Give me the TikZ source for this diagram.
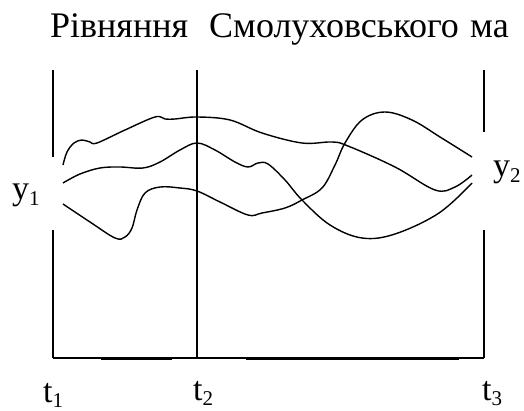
\documentclass[tikz,border=0pt]{standalone}
\usepackage{fontspec}
\setmainfont{Liberation Serif}
\begin{document}
\begin{tikzpicture}[x=1pt,y=-1pt,
  axisline/.style={line width=1.3pt},
  path/.style={line width=1.4pt},
  big/.style={inner sep=0pt,anchor=base west,font=\fontsize{36}{40}\selectfont},
  lab/.style={inner sep=0pt,anchor=base west,font=\fontsize{34}{40}\selectfont}]
\useasboundingbox (0,0) rectangle (524,411);
% title
\node[big] (w1) at (50,38) {Рівняння};
\node[big] (w2) at (209,38) {Смолуховського};
\node[big] (w3) at (470,38) {ма};
% coordinates
\coordinate (Ltop) at (53,70);
\coordinate (Lg1) at (53,157);
\coordinate (Lg2) at (53,230);
\coordinate (Lbot) at (53,358);
\coordinate (Mtop) at (197,70);
\coordinate (Mbot) at (197,358);
\coordinate (Rtop) at (484,70);
\coordinate (Rg1) at (484,132);
\coordinate (Rg2) at (484,230);
\coordinate (Rbot) at (484,358);
\draw[axisline] (Ltop) -- (Lg1);
\draw[axisline] (Lg2) -- (Lbot);
\draw[axisline] (Mtop) -- (Mbot);
\draw[axisline] (Rtop) -- (Rg1);
\draw[axisline] (Rg2) -- (Rbot);
\draw[line width=1.2pt] (Lbot) -- (Rbot);
\coordinate (s1a) at (101,358.5);
\coordinate (s1b) at (172,358.5);
\coordinate (s2a) at (246,358.5);
\coordinate (s2b) at (459,358.5);
\draw[line width=2pt] (s1a) -- (s1b);
\draw[line width=2pt] (s2a) -- (s2b);
% curves
\draw[path] plot[smooth,tension=0.6] coordinates {(63,165) (67,152) (74,143) (82,140) (90,142) (97,143) (125,130) (155,117) (165,119) (175,119) (197,117) (230,120) (262,133) (302,143) (332,142) (348,146) (395,167) (435,190) (455,187) (472,175)};
\draw[path] plot[smooth,tension=0.6] coordinates {(63,183) (80,174) (100,168) (120,167) (143,168) (160,162) (180,150) (197,143) (215,150) (235,162) (248,167) (258,163) (268,164) (285,180) (302,200) (330,225) (362,238) (395,234) (439,213) (472,183)};
\draw[path] plot[smooth,tension=0.6] coordinates {(63,204) (90,222) (115,238) (125,237) (132,228) (137,210) (145,193) (160,187) (180,188) (197,191) (220,202) (248,215) (262,213) (285,208) (302,200) (322,188) (335,165) (345,143) (362,120) (385,112) (412,120) (440,137) (472,157)};
% labels
\node[lab] (y1) at (12,200) {y\raisebox{-6pt}{\fontsize{21}{24}\selectfont 1}};
\node[lab] (y2) at (493,177) {y\raisebox{-6pt}{\fontsize{21}{24}\selectfont 2}};
\node[lab] (t1) at (43,402) {t\raisebox{-5pt}{\fontsize{21}{24}\selectfont 1}};
\node[lab] (t2) at (193,400) {t\raisebox{-5pt}{\fontsize{21}{24}\selectfont 2}};
\node[lab] (t3) at (482,400) {t\raisebox{-5pt}{\fontsize{21}{24}\selectfont 3}};
\end{tikzpicture}
\end{document}
